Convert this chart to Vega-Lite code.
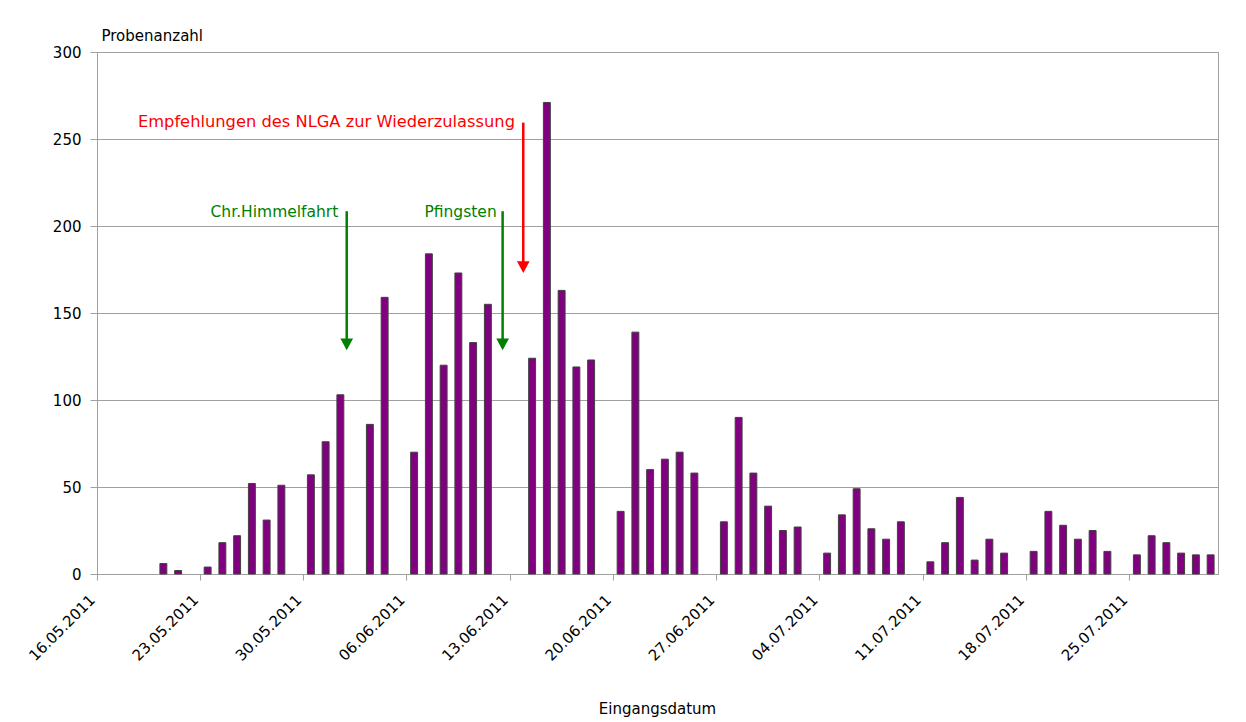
{
  "$schema": "https://vega.github.io/schema/vega-lite/v6.json",
  "width": 1121,
  "height": 522,
  "autosize": "none",
  "padding": {"left": 97, "top": 52, "right": 28, "bottom": 148},
  "background": "white",
  "config": {
    "view": {"stroke": "#a0a0a0", "strokeWidth": 1},
    "font": "DejaVu Sans"
  },
  "datasets": {
    "proben": [
      {"datum": "20.05.2011", "anzahl": 6},
      {"datum": "21.05.2011", "anzahl": 2},
      {"datum": "23.05.2011", "anzahl": 4},
      {"datum": "24.05.2011", "anzahl": 18},
      {"datum": "25.05.2011", "anzahl": 22},
      {"datum": "26.05.2011", "anzahl": 52},
      {"datum": "27.05.2011", "anzahl": 31},
      {"datum": "28.05.2011", "anzahl": 51},
      {"datum": "30.05.2011", "anzahl": 57},
      {"datum": "31.05.2011", "anzahl": 76},
      {"datum": "01.06.2011", "anzahl": 103},
      {"datum": "03.06.2011", "anzahl": 86},
      {"datum": "04.06.2011", "anzahl": 159},
      {"datum": "06.06.2011", "anzahl": 70},
      {"datum": "07.06.2011", "anzahl": 184},
      {"datum": "08.06.2011", "anzahl": 120},
      {"datum": "09.06.2011", "anzahl": 173},
      {"datum": "10.06.2011", "anzahl": 133},
      {"datum": "11.06.2011", "anzahl": 155},
      {"datum": "14.06.2011", "anzahl": 124},
      {"datum": "15.06.2011", "anzahl": 271},
      {"datum": "16.06.2011", "anzahl": 163},
      {"datum": "17.06.2011", "anzahl": 119},
      {"datum": "18.06.2011", "anzahl": 123},
      {"datum": "20.06.2011", "anzahl": 36},
      {"datum": "21.06.2011", "anzahl": 139},
      {"datum": "22.06.2011", "anzahl": 60},
      {"datum": "23.06.2011", "anzahl": 66},
      {"datum": "24.06.2011", "anzahl": 70},
      {"datum": "25.06.2011", "anzahl": 58},
      {"datum": "27.06.2011", "anzahl": 30},
      {"datum": "28.06.2011", "anzahl": 90},
      {"datum": "29.06.2011", "anzahl": 58},
      {"datum": "30.06.2011", "anzahl": 39},
      {"datum": "01.07.2011", "anzahl": 25},
      {"datum": "02.07.2011", "anzahl": 27},
      {"datum": "04.07.2011", "anzahl": 12},
      {"datum": "05.07.2011", "anzahl": 34},
      {"datum": "06.07.2011", "anzahl": 49},
      {"datum": "07.07.2011", "anzahl": 26},
      {"datum": "08.07.2011", "anzahl": 20},
      {"datum": "09.07.2011", "anzahl": 30},
      {"datum": "11.07.2011", "anzahl": 7},
      {"datum": "12.07.2011", "anzahl": 18},
      {"datum": "13.07.2011", "anzahl": 44},
      {"datum": "14.07.2011", "anzahl": 8},
      {"datum": "15.07.2011", "anzahl": 20},
      {"datum": "16.07.2011", "anzahl": 12},
      {"datum": "18.07.2011", "anzahl": 13},
      {"datum": "19.07.2011", "anzahl": 36},
      {"datum": "20.07.2011", "anzahl": 28},
      {"datum": "21.07.2011", "anzahl": 20},
      {"datum": "22.07.2011", "anzahl": 25},
      {"datum": "23.07.2011", "anzahl": 13},
      {"datum": "25.07.2011", "anzahl": 11},
      {"datum": "26.07.2011", "anzahl": 22},
      {"datum": "27.07.2011", "anzahl": 18},
      {"datum": "28.07.2011", "anzahl": 12},
      {"datum": "29.07.2011", "anzahl": 11},
      {"datum": "30.07.2011", "anzahl": 11}
    ],
    "ereignisse": [
      {"ereignis": "Chr.Himmelfahrt", "typ": "Feiertag", "pfeil_x": 16.93, "pfeil_oben": 208.5, "pfeil_unten": 133, "spitze": 132, "text_x": 16.36, "text_y": 208},
      {"ereignis": "Pfingsten", "typ": "Feiertag", "pfeil_x": 27.5, "pfeil_oben": 208.5, "pfeil_unten": 133, "spitze": 132, "text_x": 27.1, "text_y": 208},
      {"ereignis": "Empfehlungen des NLGA zur Wiederzulassung", "typ": "NLGA", "pfeil_x": 28.9, "pfeil_oben": 259.4, "pfeil_unten": 177.4, "spitze": 176.4, "text_x": 28.34, "text_y": 259.6}
    ]
  },
  "resolve": {"scale": {"x": "independent"}, "axis": {"x": "independent"}},
  "layer": [
    {
      "data": {"name": "proben"},
      "mark": {"type": "bar", "width": {"band": 0.47}, "fill": "#800080", "stroke": "#404040", "strokeWidth": 1},
      "encoding": {
        "x": {
          "field": "datum",
          "type": "ordinal",
          "sort": null,
          "scale": {
            "domain": ["16.05.2011","17.05.2011","18.05.2011","19.05.2011","20.05.2011","21.05.2011","22.05.2011","23.05.2011","24.05.2011","25.05.2011","26.05.2011","27.05.2011","28.05.2011","29.05.2011","30.05.2011","31.05.2011","01.06.2011","02.06.2011","03.06.2011","04.06.2011","05.06.2011","06.06.2011","07.06.2011","08.06.2011","09.06.2011","10.06.2011","11.06.2011","12.06.2011","13.06.2011","14.06.2011","15.06.2011","16.06.2011","17.06.2011","18.06.2011","19.06.2011","20.06.2011","21.06.2011","22.06.2011","23.06.2011","24.06.2011","25.06.2011","26.06.2011","27.06.2011","28.06.2011","29.06.2011","30.06.2011","01.07.2011","02.07.2011","03.07.2011","04.07.2011","05.07.2011","06.07.2011","07.07.2011","08.07.2011","09.07.2011","10.07.2011","11.07.2011","12.07.2011","13.07.2011","14.07.2011","15.07.2011","16.07.2011","17.07.2011","18.07.2011","19.07.2011","20.07.2011","21.07.2011","22.07.2011","23.07.2011","24.07.2011","25.07.2011","26.07.2011","27.07.2011","28.07.2011","29.07.2011","30.07.2011"],
            "paddingInner": 0,
            "paddingOuter": 0
          },
          "axis": {
            "values": ["16.05.2011","23.05.2011","30.05.2011","06.06.2011","13.06.2011","20.06.2011","27.06.2011","04.07.2011","11.07.2011","18.07.2011","25.07.2011"],
            "bandPosition": 0,
            "title": "Eingangsdatum",
            "titleFont": "DejaVu Sans",
            "titleFontSize": 15,
            "titleFontWeight": "normal",
            "titleColor": "black",
            "titleX": 560,
            "titleY": 139,
            "titleAlign": "center",
            "titleBaseline": "alphabetic",
            "labelAngle": -45,
            "labelAlign": "right",
            "labelBaseline": "middle",
            "labelFont": "DejaVu Sans",
            "labelFontSize": 15,
            "labelColor": "black",
            "labelPadding": 17,
            "labelOffset": -12,
            "labelOverlap": false,
            "labelFlush": false,
            "labelBound": false,
            "tickSize": 6,
            "tickColor": "#a0a0a0",
            "domainColor": "#a0a0a0",
            "grid": false
          }
        },
        "y": {
          "field": "anzahl",
          "type": "quantitative",
          "scale": {"domain": [0, 300], "nice": false},
          "axis": {
            "values": [0, 50, 100, 150, 200, 250, 300],
            "title": "Probenanzahl",
            "titleAngle": 0,
            "titleAlign": "left",
            "titleBaseline": "alphabetic",
            "titleX": 4,
            "titleY": -12,
            "titleFont": "DejaVu Sans",
            "titleFontSize": 15,
            "titleFontWeight": "normal",
            "titleColor": "black",
            "labelFont": "DejaVu Sans",
            "labelFontSize": 15,
            "labelColor": "black",
            "labelPadding": 9,
            "tickSize": 7,
            "tickColor": "#a0a0a0",
            "domainColor": "#a0a0a0",
            "grid": true,
            "gridColor": "#a0a0a0"
          }
        }
      }
    },
    {
      "data": {"name": "ereignisse"},
      "encoding": {
        "color": {
          "field": "typ",
          "type": "nominal",
          "scale": {"domain": ["Feiertag", "NLGA"], "range": ["#008000", "#ff0000"]},
          "legend": null
        }
      },
      "layer": [
        {
          "mark": {"type": "rule", "strokeWidth": 2.5},
          "encoding": {
            "x": {"field": "pfeil_x", "type": "quantitative", "scale": {"domain": [0, 76], "nice": false, "zero": true}, "axis": null},
            "y": {"field": "pfeil_oben", "type": "quantitative"},
            "y2": {"field": "pfeil_unten"}
          }
        },
        {
          "mark": {"type": "point", "shape": "M-1,-0.93L1,-0.93L0,0.93Z", "filled": true, "size": 161, "opacity": 1, "strokeWidth": 0},
          "encoding": {
            "x": {"field": "pfeil_x", "type": "quantitative", "scale": {"domain": [0, 76], "nice": false, "zero": true}, "axis": null},
            "y": {"field": "spitze", "type": "quantitative"}
          }
        },
        {
          "mark": {"type": "text", "align": "right", "baseline": "middle", "font": "DejaVu Sans"},
          "encoding": {
            "x": {"field": "text_x", "type": "quantitative", "scale": {"domain": [0, 76], "nice": false, "zero": true}, "axis": null},
            "y": {"field": "text_y", "type": "quantitative"},
            "text": {"field": "ereignis"},
            "size": {"field": "typ", "type": "nominal", "scale": {"domain": ["Feiertag", "NLGA"], "range": [15.5, 16.3]}, "legend": null}
          }
        }
      ]
    }
  ]
}
